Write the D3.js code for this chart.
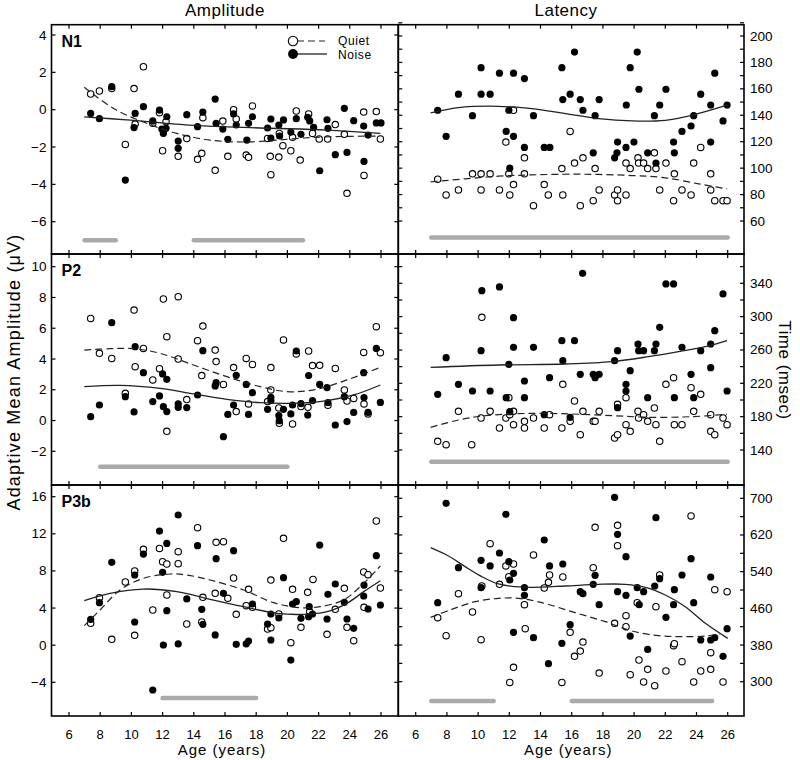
<!DOCTYPE html>
<html><head><meta charset="utf-8">
<script src="https://cdn.jsdelivr.net/npm/d3@7"></script>
<style>body{margin:0;background:#fff}svg{display:block}</style>
</head><body>
<svg id="c" width="800" height="760"></svg>
<script>
// ---------------- DATA ----------------
const ageTicks = [6,8,10,12,14,16,18,20,22,24,26];
const n1AmpTicks = [4,2,0,-2,-4,-6];
const p2AmpTicks = [10,8,6,4,2,0,-2];
const p3bAmpTicks = [16,12,8,4,0,-4];
const n1LatLabels = [200,180,160,140,120,100,80,60];
const p2LatLabels = [340,300,260,220,180,140];
const p3bLatLabels = [700,620,540,460,380,300];

// N1 amplitude
const n1AmpQuiet = [[7.39,0.84],[7.95,1.0],[8.74,1.14],[10.77,2.3],[10.17,1.13],[9.61,-1.86],[10.24,-0.77],[11.8,-0.16],[11.37,-0.73],[12.0,-2.2],[12.22,-0.64],[13.0,-2.5],[13.55,-1.55],[14.24,-2.66],[14.51,-2.34],[14.58,-0.43],[15.37,-3.25],[15.86,-0.61],[16.18,-2.5],[16.55,0.0],[16.72,-0.5],[17.36,-2.43],[17.51,-2.55],[17.76,0.2],[18.73,-1.54],[18.9,-2.5],[18.94,-3.48],[19.45,-2.54],[19.48,-1.27],[19.71,-1.93],[20.22,-2.2],[20.33,-1.48],[20.57,-0.07],[20.82,-2.7],[21.36,-0.23],[21.61,-1.27],[22.04,-1.57],[22.58,-1.57],[23.07,-0.8],[23.65,-1.32],[23.82,-4.48],[24.89,-0.13],[24.91,-3.52],[25.7,-0.1],[25.96,-1.57]];
const n1AmpNoise = [[7.39,-0.2],[7.95,-0.48],[8.74,1.23],[9.61,-3.77],[10.24,-0.2],[10.17,-0.96],[10.77,0.16],[11.8,-0.02],[11.37,-0.6],[11.95,-1.04],[12.05,-1.27],[12.27,-0.38],[12.22,-1.0],[13.0,-1.68],[13.0,-2.07],[13.55,-0.27],[14.24,-0.91],[14.58,-0.13],[15.37,0.57],[15.43,-0.73],[15.86,-1.04],[16.18,-1.59],[16.55,-0.23],[16.72,-0.82],[17.4,-1.63],[17.51,-0.73],[17.76,-0.38],[18.73,-0.98],[18.94,-0.5],[18.94,-1.52],[19.45,-0.82],[19.5,-1.41],[19.75,-0.55],[20.22,-1.2],[20.57,-0.48],[20.87,-1.32],[21.3,-0.41],[21.43,-0.6],[21.68,-0.95],[22.07,-3.27],[22.54,-0.54],[22.6,-1.0],[23.07,-2.41],[23.65,0.07],[23.82,-2.29],[24.25,-0.59],[24.89,-0.88],[24.91,-2.77],[25.17,-1.36],[25.7,-0.71],[26.0,-0.71]];
const n1AmpQuietFit = [[6.98,1.2],[8.95,0.02],[10.98,-0.73],[12.9,-1.27],[15.05,-1.63],[17.4,-1.73],[19.3,-1.63],[21.68,-1.48],[25.96,-1.41]];
const n1AmpNoiseFit = [[6.98,-0.38],[9.7,-0.55],[13.98,-0.84],[18.26,-0.98],[22.54,-1.09],[25.96,-1.27]];
const n1AmpSig = [[7,9],[14,21]];
const n1AmpSigLevel = -7;

// N1 latency
const n1LatQuiet = [[7.41,91.6],[7.95,79.7],[8.74,83.5],[9.64,95.7],[10.19,95.7],[10.77,95.7],[10.19,83.5],[11.37,83.5],[11.78,119.7],[11.97,95.7],[12.27,143.8],[12.03,79.7],[12.27,87.6],[12.97,107.8],[12.97,95.7],[13.55,71.6],[14.24,87.6],[14.5,79.7],[15.37,99.7],[15.43,79.7],[15.9,127.8],[16.18,103.8],[16.55,71.6],[16.72,107.8],[17.38,75.4],[17.5,99.7],[17.76,83.5],[18.75,79.7],[18.94,83.5],[18.94,75.4],[19.48,79.7],[19.48,103.8],[19.75,99.7],[20.25,107.8],[20.29,103.8],[20.61,103.8],[20.87,99.7],[21.3,111.6],[21.4,99.7],[21.64,83.5],[22.04,103.8],[22.53,75.4],[22.58,95.7],[23.07,83.5],[23.65,79.7],[23.82,103.8],[24.27,115.7],[24.91,95.7],[24.91,83.5],[25.17,75.4],[25.7,75.4],[25.96,75.4]];
const n1LatNoise = [[7.41,143.8],[7.95,124.1],[8.74,156],[9.64,139.7],[10.19,176],[10.19,156],[10.77,156],[11.37,171.9],[11.97,143.8],[11.8,127.8],[12.27,171.9],[12.27,124.1],[12.03,100],[12.97,167.8],[12.97,115.7],[13.55,139.7],[14.24,115.7],[14.6,115.7],[15.37,176],[15.43,151.9],[15.9,156],[16.18,187.8],[16.55,151.9],[16.72,143.8],[17.38,111.6],[17.5,139.7],[17.76,151.9],[18.75,107.8],[18.9,111.6],[18.94,119.7],[19.48,115.7],[19.5,147.8],[19.75,176],[19.99,119.7],[20.2,187.8],[20.31,159.7],[20.87,111.6],[21.4,103.8],[21.3,139.7],[21.64,147.8],[22.04,159.7],[22.53,119.7],[22.58,111.6],[23.07,127.8],[23.65,131.9],[23.82,139.7],[24.27,156],[24.91,147.8],[24.91,119.7],[25.17,171.9],[25.7,135.7],[25.96,147.8]];
const n1LatQuietFit = [[6.96,89.6],[9.17,91.9],[11.3,93.9],[13.44,94.9],[16.65,95.4],[19.86,94.4],[22.0,92.7],[24.14,88.1],[25.96,84.3]];
const n1LatNoiseFit = [[6.96,141.8],[8.74,145.8],[11.3,146.8],[13.44,145],[15.58,141.3],[17.72,137.5],[19.86,135.7],[22.0,136.2],[23.7,140],[25.96,147.6]];
const n1LatSig = [[7,26]];
const n1LatSigLevel = 47.5;

// P2 amplitude
const p2AmpQuiet = [[7.39,6.64],[7.95,4.37],[8.74,4.04],[10.17,7.18],[9.61,1.77],[10.24,3.5],[10.77,4.69],[11.37,2.64],[11.8,3.37],[12.05,7.9],[12.27,5.45],[12.27,-0.7],[13.0,8.05],[13.0,4.0],[13.55,1.36],[14.24,5.19],[14.58,6.14],[14.51,2.92],[15.37,4.58],[15.43,3.83],[15.9,2.35],[16.55,3.44],[16.72,0.58],[17.36,4.04],[17.76,3.65],[17.51,1.08],[18.73,1.23],[18.94,3.44],[18.94,1.99],[19.45,0.82],[19.48,-0.18],[19.75,5.24],[20.57,4.33],[20.33,-0.22],[20.87,0.91],[21.36,4.52],[21.32,0.86],[21.61,3.57],[22.07,3.59],[22.6,0.99],[23.07,3.39],[23.65,1.99],[23.82,1.27],[24.25,1.44],[24.89,4.43],[24.91,1.08],[25.17,0.43],[25.7,6.1],[25.96,4.41]];
const p2AmpNoise = [[7.39,0.25],[7.95,1.01],[8.74,6.36],[9.61,1.55],[10.24,4.8],[10.17,0.56],[10.77,3.11],[11.37,1.23],[11.8,1.6],[12.0,3.03],[12.05,0.9],[12.27,2.68],[12.27,0.58],[13.0,1.08],[13.0,0.86],[13.55,0.84],[14.24,1.66],[14.58,4.54],[15.37,2.25],[15.43,2.46],[15.9,-1.05],[16.18,0.4],[16.55,1.01],[16.72,2.94],[17.36,2.35],[17.76,1.81],[17.51,0.4],[18.73,0.73],[18.94,1.51],[18.94,1.29],[19.45,0.32],[19.48,-0.01],[19.75,0.73],[20.33,1.01],[20.22,0.43],[20.57,4.52],[20.87,1.1],[21.36,2.92],[21.3,0.36],[21.61,1.29],[22.07,2.35],[22.54,2.14],[22.6,1.16],[23.07,-0.29],[23.65,1.55],[23.82,-0.07],[24.25,0.53],[24.89,3.11],[24.91,1.49],[25.17,0.53],[25.7,4.69],[25.96,1.18]];
const p2AmpQuietFit = [[6.98,4.58],[8.63,4.67],[10.17,4.67],[11.84,4.37],[13.98,3.61],[16.12,2.85],[18.26,2.2],[19.97,1.88],[21.68,1.99],[23.82,2.64],[25.96,3.46]];
const p2AmpNoiseFit = [[6.98,2.2],[9.27,2.29],[11.84,2.09],[13.98,1.73],[16.12,1.38],[18.26,1.16],[20.4,1.12],[22.54,1.29],[24.25,1.66],[25.96,2.31]];
const p2AmpSig = [[8,20]];
const p2AmpSigLevel = -3;

// P2 latency
const p2LatQuiet = [[7.41,150.4],[7.95,146.4],[8.74,186.4],[9.59,146.4],[10.24,299.2],[10.19,178.4],[10.77,186.4],[11.37,166.4],[11.78,178.4],[11.97,202.8],[12.03,182.4],[12.27,186.4],[12.27,170.4],[12.97,174.4],[12.97,166.4],[13.55,178.4],[14.24,166.4],[14.58,182.4],[15.37,166.4],[15.43,218.8],[15.9,174.4],[16.18,198.8],[16.55,158.4],[16.72,186.4],[17.38,174.4],[17.5,174.4],[17.76,186.4],[18.75,154.4],[18.94,158.4],[18.94,194.8],[19.48,202.8],[19.48,170.4],[19.75,162.4],[20.25,186.4],[20.29,178.4],[20.61,182.4],[20.87,174.4],[21.3,190.4],[21.4,170.4],[21.64,150.4],[22.04,218.8],[22.53,226.8],[22.58,170.4],[23.07,170.4],[23.65,214.8],[23.82,186.4],[24.27,206.8],[24.91,182.4],[24.91,162.4],[25.17,158.4],[25.7,178.4],[25.96,170.4]];
const p2LatNoise = [[7.41,206.8],[7.95,250.8],[8.74,218.8],[9.64,210.8],[10.24,331.2],[10.19,259.2],[10.77,210.8],[11.37,335.6],[11.97,242.8],[11.8,202.8],[12.27,298.8],[12.27,263.2],[12.03,186],[12.97,222.8],[12.97,202.8],[13.55,263.2],[14.24,182.4],[14.58,226.8],[15.37,271.2],[15.43,247.2],[15.9,179.2],[16.18,271.2],[16.55,230.8],[16.7,352],[17.38,230.8],[17.5,226.8],[17.76,230.8],[18.75,247.2],[18.94,259.2],[18.94,190.8],[19.48,218.8],[19.48,210.8],[19.75,235.2],[20.25,267.2],[20.29,259.2],[20.61,259.2],[20.87,202.8],[21.3,259.2],[21.4,267.2],[21.64,287.2],[22.04,339.2],[22.53,339.2],[22.58,202.8],[23.07,263.2],[23.65,230.8],[23.82,202.8],[24.27,259.2],[24.91,267.2],[24.91,238.8],[25.17,283.2],[25.7,327.2],[25.96,210.8]];
const p2LatQuietFit = [[6.96,167.2],[8.74,176],[10.45,181.2],[13.44,184],[16.01,183.2],[18.58,181.2],[21.14,179.2],[23.71,180],[25.96,182.8]];
const p2LatNoiseFit = [[6.96,239.2],[11.3,242],[15.58,243.2],[18.58,246],[20.93,252],[23.07,258.8],[24.57,264],[25.96,271.2]];
const p2LatSig = [[7,26]];
const p2LatSigLevel = 126;

// P3b amplitude
const p3bAmpQuiet = [[7.39,2.36],[7.95,5.12],[8.74,0.63],[9.61,6.81],[10.21,8.0],[10.21,1.06],[10.77,10.33],[11.37,3.79],[11.8,10.43],[12.0,9.0],[12.27,8.75],[12.27,5.41],[13.0,10.08],[13.0,8.78],[13.55,2.28],[14.24,12.66],[14.58,5.16],[14.51,2.5],[15.43,11.08],[15.9,11.15],[15.37,5.59],[16.18,5.05],[16.55,7.24],[16.72,3.32],[17.36,4.26],[17.51,6.02],[17.76,4.08],[18.73,1.74],[18.94,7.02],[18.94,1.89],[19.45,3.36],[19.75,11.51],[20.33,6.02],[20.22,0.27],[20.87,1.92],[21.3,5.7],[21.64,7.09],[21.43,3.61],[22.54,1.17],[23.07,3.86],[23.65,6.13],[23.82,1.92],[24.25,0.49],[24.89,7.89],[25.17,7.6],[24.91,4.08],[25.7,13.38],[25.96,6.16]];
const p3bAmpNoise = [[7.39,2.79],[7.95,4.58],[8.74,8.93],[10.21,7.56],[10.21,2.5],[10.77,9.82],[11.37,-4.83],[11.8,12.3],[12.0,7.85],[12.05,0.02],[12.27,10.97],[12.27,3.72],[13.0,14.03],[13.0,0.13],[13.55,4.98],[14.24,10.72],[14.51,3.86],[14.58,2.25],[15.37,1.1],[15.43,9.32],[15.9,5.59],[16.55,10.18],[16.72,0.09],[17.36,0.13],[17.51,0.45],[17.76,4.44],[18.73,2.28],[18.94,3.36],[18.94,0.56],[19.45,2.93],[19.75,7.27],[20.33,4.44],[20.57,4.69],[20.22,-1.6],[20.87,2.89],[21.36,3.07],[21.4,4.15],[21.61,3.36],[22.07,10.79],[22.54,2.82],[22.6,5.48],[23.07,6.59],[23.65,4.62],[23.82,2.82],[24.25,1.82],[24.89,5.3],[24.91,6.48],[25.17,3.9],[25.7,9.64],[25.96,4.33]];
const p3bAmpQuietFit = [[6.98,2.1],[7.99,3.79],[9.27,5.95],[10.77,7.2],[12.48,7.67],[13.55,7.56],[15.05,7.02],[17.19,5.95],[19.11,4.58],[20.82,4.04],[22.1,4.15],[23.6,4.87],[24.67,6.31],[25.96,8.53]];
const p3bAmpNoiseFit = [[6.98,4.8],[8.63,5.59],[10.77,6.05],[12.91,5.77],[15.05,4.94],[17.19,4.15],[19.33,3.43],[21.04,3.32],[22.54,3.61],[23.82,4.51],[24.89,5.77],[25.96,6.95]];
const p3bAmpSig = [[12,18]];
const p3bAmpSigLevel = -5.7;

// P3b latency
const p3bLatQuiet = [[7.41,439.6],[7.95,400.4],[8.74,492],[9.64,452],[10.19,391.6],[10.24,508.7],[10.77,601.1],[11.37,512.4],[11.78,552.4],[11.97,529.1],[12.03,298.5],[12.27,556.7],[12.27,331.3],[12.97,468],[13.02,415.6],[13.55,576.4],[14.24,504.4],[14.51,516.7],[14.58,532.7],[15.37,298.5],[15.43,528.4],[15.9,407.6],[16.18,355.3],[16.55,366.9],[16.72,386.5],[17.38,548.7],[17.5,636.7],[17.76,318.9],[18.75,427.3],[18.94,641.1],[18.94,596.7],[19.48,444],[19.48,420],[19.75,315.3],[20.2,472.4],[20.31,347.3],[20.61,299.3],[20.87,326.9],[21.32,291.3],[21.4,463.6],[21.64,532.7],[22.04,323.3],[22.53,378.5],[22.58,382.9],[23.07,343.6],[23.65,661.5],[23.82,299.3],[24.27,323.3],[24.91,363.3],[24.91,326.9],[25.17,500.7],[25.7,299.3],[25.96,496.4]];
const p3bLatNoise = [[7.41,472.4],[7.95,689.1],[8.74,548.7],[10.19,564.7],[10.19,505.1],[10.77,552.4],[11.37,580.7],[11.78,665.1],[11.97,561.8],[12.03,521.8],[12.27,536.4],[12.27,407.6],[12.97,505.1],[12.97,488.4],[13.55,396],[14.24,609.1],[14.58,552.4],[14.51,339.3],[15.37,383.6],[15.43,556.7],[15.9,424.4],[16.55,496.4],[16.72,492],[17.38,512.4],[17.5,532],[17.76,468],[18.75,702.2],[18.94,621.5],[18.94,496.4],[19.48,572.7],[19.48,488.4],[19.75,399.6],[20.2,505.1],[20.33,468],[20.61,496.4],[20.87,370.5],[21.32,508.7],[21.4,657.8],[21.64,524.7],[22.04,440.4],[22.53,468],[22.58,500.7],[23.07,532.7],[23.65,568.4],[23.82,472.4],[24.27,390.9],[24.91,528.4],[24.91,390.9],[25.17,396],[25.7,355.3],[25.96,415.6]];
const p3bLatQuietFit = [[6.96,440.4],[8.31,457.8],[9.81,474.5],[11.3,481.8],[12.59,481.8],[14.09,472.4],[16.01,452.7],[18.15,430.9],[19.86,410.5],[21.57,400.4],[23.07,398.2],[24.57,399.6],[25.5,404]];
const p3bLatNoiseFit = [[6.96,592.4],[8.1,574.2],[9.17,550.9],[10.24,529.1],[11.3,513.1],[12.37,507.3],[13.44,505.8],[15.58,508.7],[17.72,512.4],[19.43,512.4],[20.72,505.8],[22.0,489.1],[23.28,463.6],[24.57,427.3],[26.0,394.5]];
const p3bLatSig = [[7,11],[16,25]];
const p3bLatSigLevel = 258;

// ---------------- LAYOUT ----------------
const svg = d3.select("#c");
const FONT = "'Liberation Sans', Arial, sans-serif";
const colX = [{x0:51.5, x1:398.3, r:[69,381]}, {x0:398.3, x1:744, r:[415.7,727.7]}];
const rowY = [{y0:24.7, y1:254}, {y0:254, y1:485}, {y0:485, y1:716}];

const panels = [
  {row:0,col:0,label:"N1",quiet:n1AmpQuiet,noise:n1AmpNoise,qf:n1AmpQuietFit,nf:n1AmpNoiseFit,sig:n1AmpSig,sigY:n1AmpSigLevel,
   yd:[4,-6],yr:[35,221.7],minor:n1AmpTicks,labels:n1AmpTicks},
  {row:0,col:1,quiet:n1LatQuiet,noise:n1LatNoise,qf:n1LatQuietFit,nf:n1LatNoiseFit,sig:n1LatSig,sigY:n1LatSigLevel,
   yd:[200,60],yr:[36,221],minor:d3.range(60,211,10),labels:n1LatLabels},
  {row:1,col:0,label:"P2",quiet:p2AmpQuiet,noise:p2AmpNoise,qf:p2AmpQuietFit,nf:p2AmpNoiseFit,sig:p2AmpSig,sigY:p2AmpSigLevel,
   yd:[10,-2],yr:[266.7,451.3],minor:p2AmpTicks,labels:p2AmpTicks},
  {row:1,col:1,quiet:p2LatQuiet,noise:p2LatNoise,qf:p2LatQuietFit,nf:p2LatNoiseFit,sig:p2LatSig,sigY:p2LatSigLevel,
   yd:[340,140],yr:[283.3,450],minor:d3.range(140,361,20),labels:p2LatLabels},
  {row:2,col:0,label:"P3b",quiet:p3bAmpQuiet,noise:p3bAmpNoise,qf:p3bAmpQuietFit,nf:p3bAmpNoiseFit,sig:p3bAmpSig,sigY:p3bAmpSigLevel,
   yd:[16,-4],yr:[496.7,682.3],minor:p3bAmpTicks,labels:p3bAmpTicks},
  {row:2,col:1,quiet:p3bLatQuiet,noise:p3bLatNoise,qf:p3bLatQuietFit,nf:p3bLatNoiseFit,sig:p3bLatSig,sigY:p3bLatSigLevel,
   yd:[700,300],yr:[498.3,681.7],minor:d3.range(300,701,40),labels:p3bLatLabels}
];

const fmt = v => v < 0 ? "\u2212" + Math.abs(v) : String(v);
const TL = 4;

panels.forEach(p => {
  const C = colX[p.col], R = rowY[p.row];
  const x = d3.scaleLinear().domain([6,26]).range(C.r);
  const y = d3.scaleLinear().domain(p.yd).range(p.yr);
  const g = svg.append("g");

  g.selectAll("line.sig").data(p.sig).enter().append("line")
    .attr("x1", d => x(d[0])).attr("x2", d => x(d[1]))
    .attr("y1", y(p.sigY)).attr("y2", y(p.sigY))
    .attr("stroke", "#aaaaaa").attr("stroke-width", 4.5).attr("stroke-linecap", "round");

  g.selectAll("circle.q").data(p.quiet).enter().append("circle")
    .attr("cx", d => x(d[0])).attr("cy", d => y(d[1])).attr("r", 3.2)
    .attr("fill", "#fff").attr("stroke", "#000").attr("stroke-width", 1.1);
  g.selectAll("circle.n").data(p.noise).enter().append("circle")
    .attr("cx", d => x(d[0])).attr("cy", d => y(d[1])).attr("r", 3.6)
    .attr("fill", "#000");

  const line = d3.line().x(d => x(d[0])).y(d => y(d[1])).curve(d3.curveCatmullRom.alpha(0.5));
  g.append("path").attr("d", line(p.qf)).attr("fill","none").attr("stroke","#222")
    .attr("stroke-width",1.2).attr("stroke-dasharray","7,4");
  g.append("path").attr("d", line(p.nf)).attr("fill","none").attr("stroke","#222")
    .attr("stroke-width",1.3);

  g.append("rect").attr("x", C.x0).attr("y", R.y0).attr("width", C.x1 - C.x0).attr("height", R.y1 - R.y0)
    .attr("fill","none").attr("stroke","#000").attr("stroke-width",1.6);

  ageTicks.forEach(a => {
    g.append("line").attr("x1",x(a)).attr("x2",x(a)).attr("y1",R.y0).attr("y2",R.y0+TL).attr("stroke","#000").attr("stroke-width",1.2);
    g.append("line").attr("x1",x(a)).attr("x2",x(a)).attr("y1",R.y1).attr("y2",R.y1-TL).attr("stroke","#000").attr("stroke-width",1.2);
  });
  if (p.row === 2) {
    g.selectAll("text.xt").data(ageTicks).enter().append("text")
      .attr("x", d => x(d)).attr("y", 739).attr("text-anchor","middle")
      .attr("font-family", FONT).attr("font-size", 13).text(d => d);
    g.append("text").attr("x", (C.x0 + C.x1)/2 - 3).attr("y", 755).attr("text-anchor","middle")
      .attr("font-family", FONT).attr("font-size", 15).attr("letter-spacing", 1).text("Age (years)");
  }

  p.minor.forEach(v => {
    g.append("line").attr("x1",C.x0).attr("x2",C.x0+TL).attr("y1",y(v)).attr("y2",y(v)).attr("stroke","#000").attr("stroke-width",1.2);
    g.append("line").attr("x1",C.x1).attr("x2",C.x1-TL).attr("y1",y(v)).attr("y2",y(v)).attr("stroke","#000").attr("stroke-width",1.2);
  });
  const lx = p.col === 0 ? C.x0 - 5 : C.x1 + 6;
  g.selectAll("text.yt").data(p.labels).enter().append("text")
    .attr("x", lx).attr("y", d => y(d) + 4.5).attr("text-anchor", p.col === 0 ? "end" : "start")
    .attr("font-family", FONT).attr("font-size", 13.5).text(d => fmt(d));

  if (p.label) {
    g.append("text").attr("x", C.x0 + 10).attr("y", R.y0 + 22).attr("font-family", FONT)
      .attr("font-size", 16).attr("font-weight", "bold").text(p.label);
  }
});

// titles
svg.append("text").attr("x", 225).attr("y", 16).attr("text-anchor","middle").attr("font-family",FONT).attr("font-size",17).attr("letter-spacing",0.5).text("Amplitude");
svg.append("text").attr("x", 566).attr("y", 16).attr("text-anchor","middle").attr("font-family",FONT).attr("font-size",17).attr("letter-spacing",0.5).text("Latency");
svg.append("text").attr("transform","translate(20,372) rotate(-90)").attr("text-anchor","middle")
  .attr("font-family",FONT).attr("font-size",18).attr("letter-spacing",1.2).text("Adaptive Mean Amplitude (\u03BCV)");
svg.append("text").attr("transform","translate(779,370) rotate(90)").attr("text-anchor","middle")
  .attr("font-family",FONT).attr("font-size",17).attr("letter-spacing",0.5).text("Time (msec)");

// legend
const lg = svg.append("g");
lg.append("line").attr("x1",297).attr("x2",325).attr("y1",41).attr("y2",41).attr("stroke","#222").attr("stroke-width",1.2).attr("stroke-dasharray","7,4");
lg.append("circle").attr("cx",293).attr("cy",41).attr("r",4.7).attr("fill","#fff").attr("stroke","#000").attr("stroke-width",1.1);
lg.append("line").attr("x1",297).attr("x2",327).attr("y1",54).attr("y2",54).attr("stroke","#222").attr("stroke-width",1.3);
lg.append("circle").attr("cx",293).attr("cy",54).attr("r",4.9).attr("fill","#000");
lg.append("text").attr("x",338).attr("y",45).attr("font-family",FONT).attr("font-size",12).attr("letter-spacing",0.6).text("Quiet");
lg.append("text").attr("x",338).attr("y",58.5).attr("font-family",FONT).attr("font-size",12).attr("letter-spacing",0.6).text("Noise");
</script>
</body></html>
